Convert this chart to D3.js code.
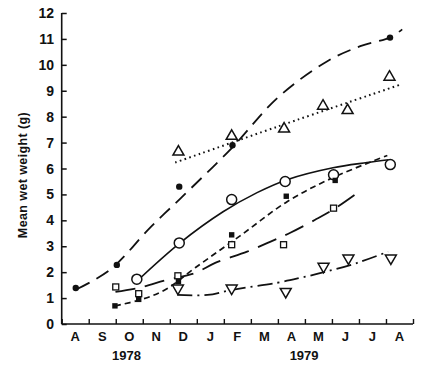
<!DOCTYPE html>
<html><head><meta charset="utf-8">
<script src="https://cdn.jsdelivr.net/npm/d3@7"></script>
<style>
html,body{margin:0;padding:0;background:#fff;}
svg{display:block;}
text{font-family:"Liberation Sans",Arial,sans-serif;font-weight:bold;fill:#111;}
</style></head>
<body>
<svg id="c" width="425" height="366"></svg>
<script>
// x values: months elapsed since 1 Aug 1978
const monthLabels = ["A","S","O","N","D","J","F","M","A","M","J","J","A"];
const yTicks = [0,1,2,3,4,5,6,7,8,9,10,11,12];
const yearLabels = [{label:"1978", m:2.4},{label:"1979", m:8.97}];

// observed points [month, weight]
const filledCircles = [[0.52,1.39],[2.04,2.28],[4.35,5.30],[6.32,6.90],[12.15,11.05]];
const openTriangles = [[4.32,6.64],[6.29,7.25],[8.23,7.53],[9.67,8.41],[10.58,8.24],[12.13,9.53]];
const openCircles   = [[2.78,1.73],[4.35,3.13],[6.29,4.80],[8.27,5.50],[10.06,5.76],[12.16,6.15]];
const openSquares   = [[2.00,1.43],[2.85,1.17],[4.30,1.86],[6.29,3.06],[8.21,3.06],[10.06,4.47]];
const filledSquares = [[1.97,0.70],[2.85,0.95],[4.32,1.64],[6.29,3.44],[8.31,4.93],[10.12,5.54]];
const invTriangles  = [[4.30,1.38],[6.29,1.38],[8.29,1.25],[9.69,2.22],[10.61,2.54],[12.18,2.54]];

// fitted curves [month, weight]
const fitFilledCircles = [[0.57,1.35],[1.80,2.10],[3.30,3.75],[4.40,4.85],[6.31,6.81],[8.00,8.74],[9.83,10.14],[11.05,10.72],[12.16,11.06],[12.60,11.37]];
const fitTriangles     = [[4.20,6.23],[8.00,7.62],[12.57,9.25]];
const fitOpenCircles   = [[2.79,1.66],[4.38,3.13],[5.97,4.33],[7.23,5.07],[8.34,5.57],[10.04,6.03],[11.30,6.23],[12.10,6.34]];
const fitFilledSquares = [[1.97,0.70],[2.90,0.93],[3.83,1.32],[4.94,2.17],[6.60,3.40],[8.34,4.72],[10.04,5.65],[12.05,6.50]];
const fitOpenSquares   = [[1.99,1.24],[2.79,1.38],[3.90,1.70],[4.94,1.97],[5.68,2.36],[6.86,2.79],[7.71,3.17],[8.46,3.52],[9.38,4.02],[10.04,4.41],[10.86,5.00]];
const fitInvTriangles  = [[4.28,1.12],[5.39,1.12],[6.31,1.32],[7.97,1.59],[8.83,1.78],[9.75,2.01],[10.94,2.36],[12.08,2.79]];

const svg = d3.select("#c");
const x = d3.scaleLinear().domain([0,13]).range([61.7,413]);
const y = d3.scaleLinear().domain([0,12]).range([324,13]);

// axes
const yAxis = d3.axisRight(y).tickValues(yTicks).tickSize(5).tickFormat("");
const gy = svg.append("g").attr("transform",`translate(${x(0)},0)`).call(yAxis);
gy.select(".domain").attr("d",`M0,${y(12)}V${y(0)}`).attr("stroke","#111").attr("stroke-width",1.6);
gy.selectAll(".tick line").attr("stroke","#111").attr("stroke-width",1.5);

const xAxis = d3.axisTop(x).tickValues(d3.range(0,14)).tickSize(5).tickFormat("");
const gx = svg.append("g").attr("transform",`translate(0,${y(0)})`).call(xAxis);
gx.select(".domain").attr("d",`M${x(0)},0H${x(13)}`).attr("stroke","#111").attr("stroke-width",1.6);
gx.selectAll(".tick line").attr("stroke","#111").attr("stroke-width",1.4);

svg.append("g").selectAll("text").data(yTicks).join("text")
  .attr("x",54).attr("y",d=>y(d)).attr("dy","0.36em").attr("text-anchor","end")
  .attr("font-size",14).text(d=>d);

svg.append("g").selectAll("text").data(monthLabels).join("text")
  .attr("x",(d,i)=>x(i+0.5)).attr("y",341).attr("text-anchor","middle")
  .attr("font-size",13).text(d=>d);

svg.append("g").selectAll("text").data(yearLabels).join("text")
  .attr("x",d=>x(d.m)).attr("y",360).attr("text-anchor","middle")
  .attr("font-size",13).text(d=>d.label);

svg.append("text").attr("transform",`translate(27,175) rotate(-90)`)
  .attr("text-anchor","middle").attr("font-size",12.5).attr("letter-spacing","0.4")
  .text("Mean wet weight (g)");

// fitted lines
const line = d3.line().x(d=>x(d[0])).y(d=>y(d[1])).curve(d3.curveCatmullRom.alpha(0.5));
const fits = [
  {d:fitFilledCircles, dash:"14,8", w:1.8},
  {d:fitTriangles, dash:"1.6,3.4", w:2.0},
  {d:fitOpenCircles, dash:null, w:1.6},
  {d:fitFilledSquares, dash:"6,4", w:1.7},
  {d:fitOpenSquares, dash:"20,10", w:1.8},
  {d:fitInvTriangles, dash:"15,5,2,5", w:1.8}
];
svg.append("g").selectAll("path").data(fits).join("path")
  .attr("d",f=>line(f.d)).attr("fill","none").attr("stroke","#111")
  .attr("stroke-width",f=>f.w).attr("stroke-dasharray",f=>f.dash);

// markers
const mk = svg.append("g");
mk.selectAll(".fc").data(filledCircles).join("circle")
  .attr("cx",d=>x(d[0])).attr("cy",d=>y(d[1])).attr("r",3.2).attr("fill","#111");
mk.selectAll(".oc").data(openCircles).join("circle")
  .attr("cx",d=>x(d[0])).attr("cy",d=>y(d[1])).attr("r",5).attr("fill","#fff")
  .attr("stroke","#111").attr("stroke-width",1.5);
const tri = d3.symbol().type(d3.symbolTriangle).size(52);
mk.selectAll(".ot").data(openTriangles).join("path")
  .attr("transform",d=>`translate(${x(d[0])},${y(d[1])})`).attr("d",tri)
  .attr("fill","#fff").attr("stroke","#111").attr("stroke-width",1.5);
mk.selectAll(".it").data(invTriangles).join("path")
  .attr("transform",d=>`translate(${x(d[0])},${y(d[1])}) rotate(180)`).attr("d",tri)
  .attr("fill","#fff").attr("stroke","#111").attr("stroke-width",1.5);
mk.selectAll(".os").data(openSquares).join("rect")
  .attr("x",d=>x(d[0])-3).attr("y",d=>y(d[1])-3).attr("width",6).attr("height",6)
  .attr("fill","#fff").attr("stroke","#111").attr("stroke-width",1.3);
mk.selectAll(".fs").data(filledSquares).join("rect")
  .attr("x",d=>x(d[0])-2.7).attr("y",d=>y(d[1])-2.7).attr("width",5.4).attr("height",5.4)
  .attr("fill","#111");
</script>
</body></html>
